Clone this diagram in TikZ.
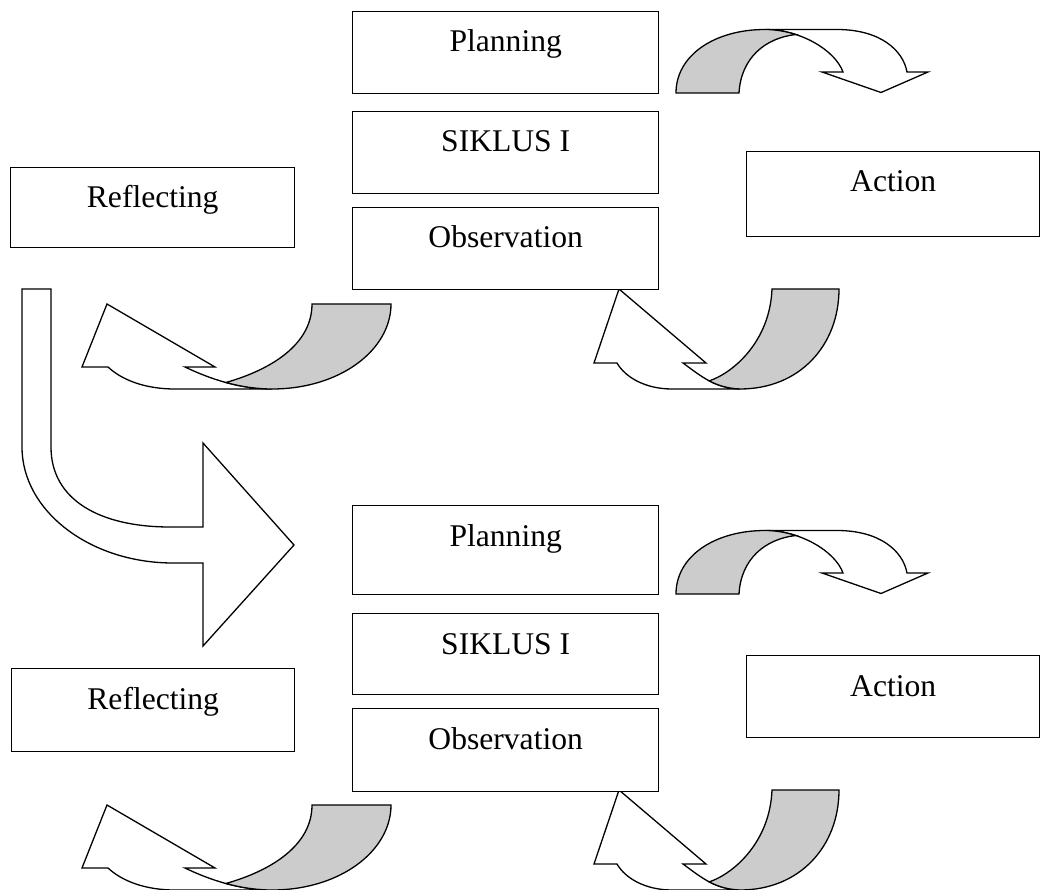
\documentclass[tikz,border=0pt]{standalone}
\usepackage{fontspec}
\setmainfont{Liberation Serif}
\begin{document}
\begin{tikzpicture}[x=1pt,y=-1pt,
  box/.style={draw, line width=1.4pt, anchor=north west, inner sep=0pt, fill=white},
  lbl/.style={anchor=base, inner sep=0pt, font=\fontsize{31.6}{36}\selectfont},
  shp/.style={draw, line width=1.3pt, line join=miter, fill=white},
  shade/.style={draw, line width=1.3pt, line join=miter, fill=gray!40}]
\useasboundingbox (0,0) rectangle (1042,890);

% ---------- curved arrows (drawn for both cycles) ----------
\foreach \dy in {0,501}{
\begin{scope}[shift={(0,\dy)}]
  % top right: curved down arrow
  \draw[shp] (765,29.5) -- (837,29.5) .. controls (880,29.5) and (903,50) .. (907,72)
     -- (928,72) -- (881,92.5) -- (822,72) -- (843,72)
     .. controls (835,50) and (800,29.5) .. (765,29.5) -- cycle;
  \draw[shade] (676,93) .. controls (676,55) and (715,29.5) .. (765,29.5)
     .. controls (775.5,29.5) and (786,31.35) .. (795.8,34.5)
     .. controls (765,38) and (741,58) .. (739,93) -- cycle;
  % lower right: curved up arrow
  \draw[shp] (617,363) -- (594,363) -- (619,289) -- (706,363) -- (683,363)
     .. controls (702,377) and (715,388) .. (740,389) -- (672,389)
     .. controls (645,389) and (625,377) .. (617,363) -- cycle;
  \draw[shade] (772,289) -- (839,289) .. controls (839,345) and (800,389) .. (740,389)
     .. controls (727.5,388.5) and (718,385.5) .. (709.25,380.9)
     .. controls (735,372) and (770,340) .. (772,289) -- cycle;
  % lower left: curved up arrow
  \draw[shp] (108,367) -- (82,367) -- (107,304) -- (215,367) -- (185,367)
     .. controls (210,379) and (240,389) .. (272,389) -- (175,389)
     .. controls (145,389) and (122,380) .. (108,367) -- cycle;
  \draw[shade] (312,304) -- (391,304) .. controls (391,350) and (340,389) .. (272,389)
     .. controls (256,389) and (240.5,386.5) .. (225.9,382.5)
     .. controls (270,370) and (312,345) .. (312,304) -- cycle;
\end{scope}}

% ---------- big bent arrow between the cycles ----------
\draw[shp] (22,289) -- (51,289) -- (51,447) .. controls (51,500) and (100,527) .. (170,527)
   -- (203,527) -- (203,443) -- (294,545) -- (203,646) -- (203,563) -- (173,563)
   .. controls (90,563) and (22,511) .. (22,447) -- cycle;

% ---------- boxes, cycle 1 ----------
\node[box, minimum width=306pt, minimum height=82pt] (plan1) at (352,11) {};
\node[box, minimum width=306pt, minimum height=82pt] (sik1) at (352,111) {};
\node[box, minimum width=306pt, minimum height=82pt] (obs1) at (352,207) {};
\node[box, minimum width=284pt, minimum height=80pt] (ref1) at (10,167) {};
\node[box, minimum width=293pt, minimum height=85pt] (act1) at (746,151) {};
\node[lbl] (plan1t) at ([yshift=-41pt]plan1.north) {Planning};
\node[lbl] (sik1t) at ([yshift=-41pt]sik1.north) {SIKLUS I};
\node[lbl] (obs1t) at ([yshift=-41pt]obs1.north) {Observation};
\node[lbl] (ref1t) at ([yshift=-41pt]ref1.north) {Reflecting};
\node[lbl] (act1t) at ([yshift=-41pt]act1.north) {Action};

% ---------- boxes, cycle 2 ----------
\node[box, minimum width=306pt, minimum height=89pt] (plan2) at (352,505) {};
\node[box, minimum width=306pt, minimum height=81pt] (sik2) at (352,613) {};
\node[box, minimum width=306pt, minimum height=83pt] (obs2) at (352,708) {};
\node[box, minimum width=283pt, minimum height=83pt] (ref2) at (11,668) {};
\node[box, minimum width=293pt, minimum height=82pt] (act2) at (746,655) {};
\node[lbl] (plan2t) at ([yshift=-41pt]plan2.north) {Planning};
\node[lbl] (sik2t) at ([yshift=-41pt]sik2.north) {SIKLUS I};
\node[lbl] (obs2t) at ([yshift=-41pt]obs2.north) {Observation};
\node[lbl] (ref2t) at ([yshift=-41pt]ref2.north) {Reflecting};
\node[lbl] (act2t) at ([yshift=-41pt]act2.north) {Action};
\end{tikzpicture}
\end{document}
